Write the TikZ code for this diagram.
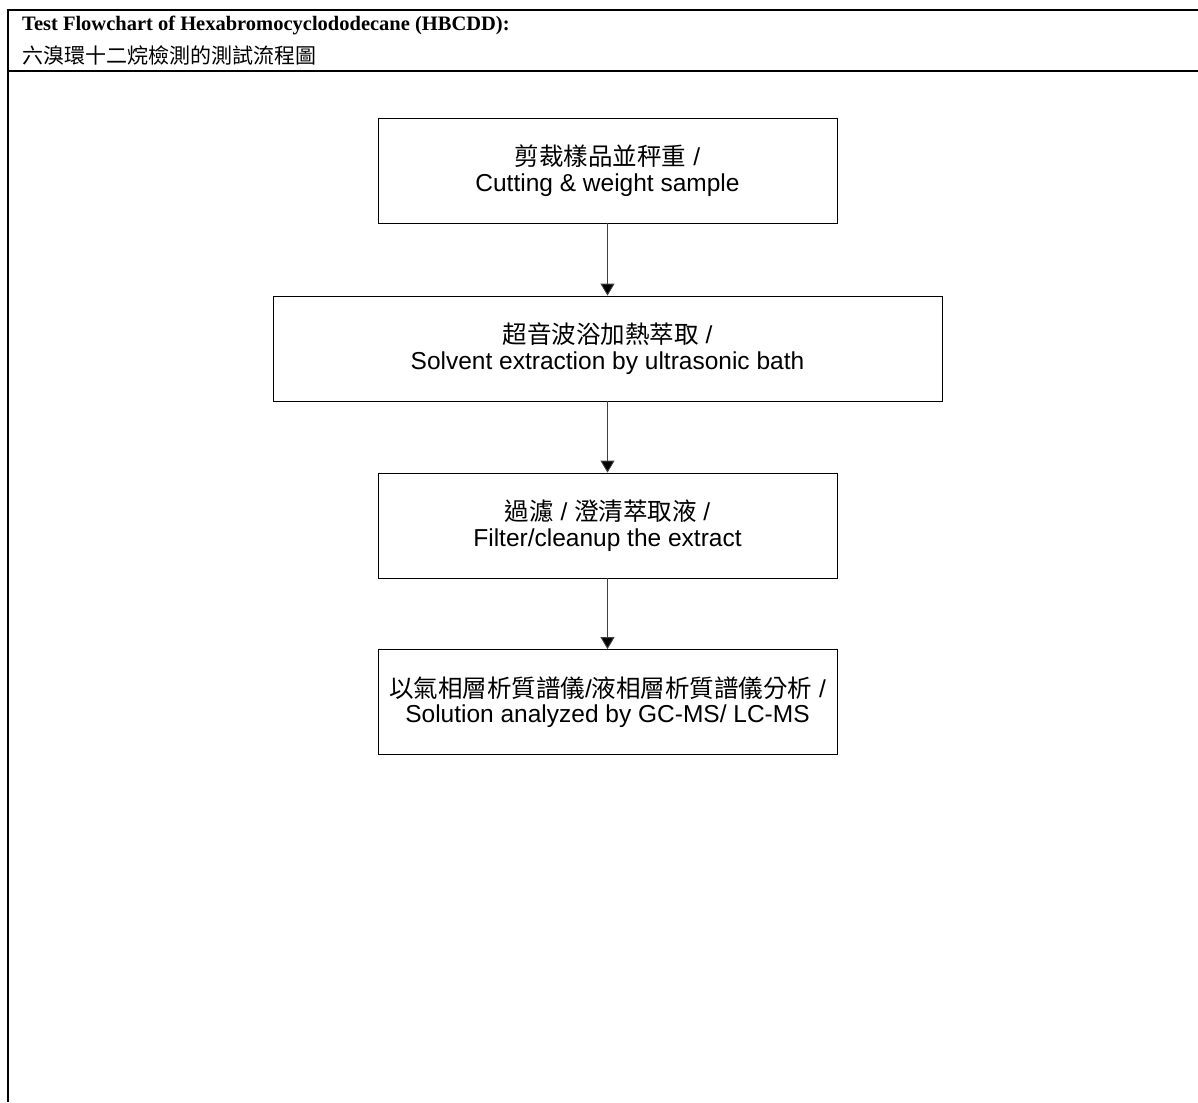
\documentclass[tikz,border=0pt]{standalone}
\usepackage{fontspec}
\setmainfont{Liberation Serif}
\setsansfont{Liberation Sans}
\newfontfamily\cjk{Noto Sans CJK TC}
\usetikzlibrary{arrows.meta}
\newcommand{\zh}[1]{{\cjk\fontsize{24.5}{25.5}\selectfont #1}}
\begin{document}
\begin{tikzpicture}[x=1pt,y=-1pt,
  frame/.style={line width=1.6pt},
  stepbox/.style={draw, line width=0.8pt, minimum height=105pt, align=center, inner sep=0pt,
    font=\sffamily\fontsize{24.5}{25.5}\selectfont},
  flow/.style={draw=black!75, line width=0.9pt, -{Triangle[width=14pt,length=12pt,fill=black]}}]
\useasboundingbox (0,0) rectangle (1198,1102);
\draw[frame] (1198,10) -- (8,10) -- (8,1102);
\draw[frame] (8,71) -- (1198,71);
\node[anchor=base west, inner sep=0pt, font=\bfseries\fontsize{20.5}{22}\selectfont] (title) at (22,31) {Test Flowchart of Hexabromocyclododecane (HBCDD):};
\node[anchor=base west, inner sep=0pt, font=\cjk\fontsize{21}{22}\selectfont] (subtitle) at (22,64) {六溴環十二烷檢測的測試流程圖};
\node[stepbox, minimum width=459pt] (s1) at (607.5,170.5) {\zh{剪裁樣品並秤重} /\\Cutting \& weight sample};
\node[stepbox, minimum width=669pt] (s2) at (607.5,348.5) {\zh{超音波浴加熱萃取} /\\Solvent extraction by ultrasonic bath};
\node[stepbox, minimum width=459pt] (s3) at (607.5,525.5) {\zh{過濾} / \zh{澄清萃取液} /\\Filter/cleanup the extract};
\node[stepbox, minimum width=459pt] (s4) at (607.5,702) {\zh{以氣相層析質譜儀}/\zh{液相層析質譜儀分析} /\\Solution analyzed by GC-MS/ LC-MS};
\draw[flow] (s1.south) -- (s2.north);
\draw[flow] (s2.south) -- (s3.north);
\draw[flow] (s3.south) -- (s4.north);
\end{tikzpicture}
\end{document}
